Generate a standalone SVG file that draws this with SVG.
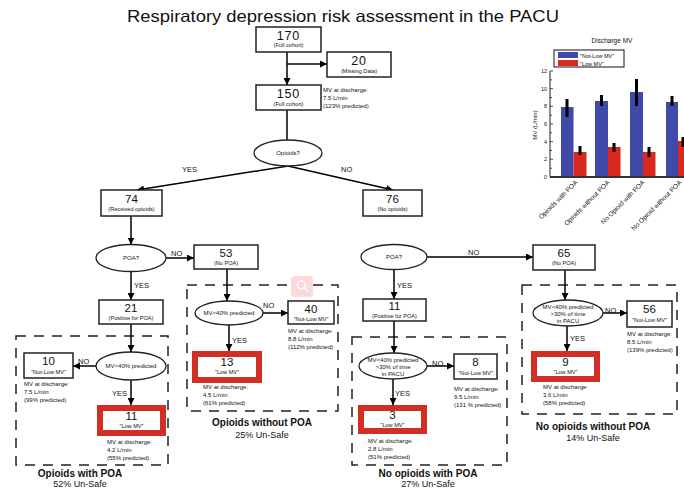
<svg xmlns="http://www.w3.org/2000/svg" width="684" height="490" viewBox="0 0 684 490">
<defs>
<marker id="ah" viewBox="0 0 10 10" refX="10" refY="5" markerWidth="7" markerHeight="7" markerUnits="userSpaceOnUse" orient="auto">
<path d="M0,0 L10,5 L0,10 z" fill="#000"/>
</marker>
<style>
text{font-family:"Liberation Sans",Arial,sans-serif;fill:#111}
.box{fill:#fff;stroke:#222;stroke-width:1.5}
.red{fill:#fff;stroke:#d32e25;stroke-width:6}
.ell{fill:#fff;stroke:#222;stroke-width:1.3}
.dash{fill:none;stroke:#222;stroke-width:1.5;stroke-dasharray:10 8}
.con line{stroke:#000;stroke-width:1.5;marker-end:url(#ah)}
.num{font-size:11.5px;text-anchor:middle}
.big{font-size:12.5px;text-anchor:middle;letter-spacing:0.8px}
.sub{font-size:5.6px;text-anchor:middle}
.in{font-size:6px;text-anchor:middle}
.mv{font-size:6px}
.lab{font-size:7.5px}
.foot{font-size:10px;font-weight:bold;text-anchor:middle}
.pct{font-size:9px;text-anchor:middle}
.ax{font-size:5.5px;text-anchor:end}
.xl{font-size:6.6px;text-anchor:end}
</style>
</defs>
<rect width="684" height="490" fill="#fff"/>
<text x="343" y="22" textLength="432" lengthAdjust="spacingAndGlyphs" style="font-size:16.5px;text-anchor:middle">Respiratory depression risk assessment in the PACU</text>

<!-- dashed groups -->
<g id="grp-opioids-poa"><rect class="dash" x="16" y="336" width="152" height="129"/><text class="foot" x="80" y="477">Opioids with POA</text><text class="pct" x="80" y="487">52% Un-Safe</text></g>
<g id="grp-opioids-nopoa"><rect class="dash" x="187" y="285" width="151" height="126"/><text class="foot" x="262" y="426">Opioids without POA</text><text class="pct" x="262" y="438">25% Un-Safe</text></g>
<g id="grp-noopioids-poa"><rect class="dash" x="352" y="337" width="155" height="128"/><text class="foot" x="428" y="477">No opioids with POA</text><text class="pct" x="428" y="487">27% Un-Safe</text></g>
<g id="grp-noopioids-nopoa"><rect class="dash" x="522" y="285" width="155" height="129"/><text class="foot" x="593" y="430">No opioids without POA</text><text class="pct" x="593" y="441">14% Un-Safe</text></g>

<!-- connectors -->
<g id="connectors" class="con">
<line x1="287" y1="52" x2="287" y2="85"/>
<line x1="287" y1="64" x2="327" y2="64"/>
<line x1="287" y1="110" x2="287" y2="140" style="marker-end:none"/>
<line x1="288" y1="166" x2="137" y2="190"/>
<line x1="288" y1="166" x2="393" y2="190"/>
<line x1="131" y1="216" x2="131" y2="244.5"/>
<line x1="166" y1="258" x2="194" y2="258"/>
<line x1="131" y1="271.5" x2="131" y2="300"/>
<line x1="227" y1="269" x2="227" y2="301"/>
<line x1="263" y1="313" x2="288" y2="313"/>
<line x1="229" y1="325" x2="229" y2="351"/>
<line x1="131" y1="324" x2="131" y2="352"/>
<line x1="96" y1="366" x2="73" y2="366"/>
<line x1="131" y1="380" x2="131" y2="405"/>
<line x1="394" y1="269.5" x2="394" y2="299"/>
<line x1="427" y1="257" x2="533" y2="257"/>
<line x1="394" y1="321" x2="394" y2="353"/>
<line x1="427" y1="366" x2="454" y2="366"/>
<line x1="393" y1="379" x2="393" y2="405"/>
<line x1="565" y1="270" x2="565" y2="300"/>
<line x1="603" y1="313" x2="627" y2="313"/>
<line x1="567" y1="326" x2="567" y2="351"/>
</g>
<g id="edge-labels" class="lab">
<text x="182" y="172">YES</text>
<text x="341" y="172">NO</text>
<text x="171" y="256">NO</text>
<text x="134" y="288">YES</text>
<text x="263" y="308">NO</text>
<text x="232" y="343">YES</text>
<text x="78" y="364">NO</text>
<text x="112" y="396">YES</text>
<text x="468" y="255">NO</text>
<text x="397" y="288">YES</text>
<text x="432" y="366">NO</text>
<text x="395" y="396">YES</text>
<text x="605" y="313">NO</text>
<text x="570" y="341">YES</text>
</g>

<!-- nodes -->
<g id="n170"><rect class="box" x="256" y="27" width="65" height="25"/><text class="big" x="288.5" y="40">170</text><text class="sub" x="288.5" y="47">(Full cohort)</text></g>
<g id="n20"><rect class="box" x="327" y="52" width="64" height="25"/><text class="big" x="359" y="65">20</text><text class="sub" x="359" y="73">(Missing Data)</text></g>
<g id="n150"><rect class="box" x="256" y="85" width="65" height="25"/><text class="big" x="288.5" y="98">150</text><text class="sub" x="288.5" y="105.5">(Full cohort)</text><text class="mv" x="323" y="92">MV at discharge:</text><text class="mv" x="323" y="100">7.5 L/min</text><text class="mv" x="323" y="108">(123% predicted)</text></g>
<g id="opioids-q"><ellipse class="ell" cx="288" cy="153" rx="34" ry="13"/><text class="in" x="288" y="155">Opioids?</text></g>
<g id="n74"><rect class="box" x="101" y="190" width="61" height="26"/><text class="num" x="131.5" y="203">74</text><text class="sub" x="131.5" y="211">(Received opioids)</text></g>
<g id="n76"><rect class="box" x="363" y="190" width="59" height="26"/><text class="num" x="392.5" y="203">76</text><text class="sub" x="392.5" y="211">(No opioids)</text></g>
<g id="poa-q-left"><ellipse class="ell" cx="131" cy="258" rx="35" ry="13.5"/><text class="in" x="131" y="260">POA?</text></g>
<g id="n53"><rect class="box" x="194" y="245" width="64" height="24"/><text class="num" x="226" y="257">53</text><text class="sub" x="226" y="265">(No POA)</text></g>
<g id="n21"><rect class="box" x="99" y="300" width="64" height="24"/><text class="num" x="131" y="312">21</text><text class="sub" x="131" y="320">(Positive for POA)</text></g>
<g id="mv-q-left"><ellipse class="ell" cx="131" cy="366" rx="35" ry="14"/><text class="in" x="131" y="368">MV&lt;40% predicted</text></g>
<g id="n10"><rect class="box" x="24" y="353" width="49" height="25"/><text class="num" x="48.5" y="365">10</text><text class="sub" x="48.5" y="374">"Not-Low MV"</text><text class="mv" x="24" y="386">MV at discharge:</text><text class="mv" x="24" y="394">7.5 L/min</text><text class="mv" x="24" y="402">(99% predicted)</text></g>
<g id="n11a"><rect class="red" x="100" y="408" width="63" height="25"/><text class="num" x="131.5" y="420">11</text><text class="sub" x="131.5" y="428">"Low MV"</text><text class="mv" x="107" y="444">MV at discharge:</text><text class="mv" x="107" y="452">4.2 L/min</text><text class="mv" x="107" y="460">(55% predicted)</text></g>
<g id="mv-q-mid"><ellipse class="ell" cx="229" cy="313" rx="34" ry="12"/><text class="in" x="229" y="315">MV&lt;40% predicted</text></g>
<g id="n40"><rect class="box" x="288" y="301" width="46" height="23"/><text class="num" x="311" y="313">40</text><text class="sub" x="311" y="321">"Not-Low MV"</text><text class="mv" x="288" y="333">MV at discharge:</text><text class="mv" x="288" y="341">8.8 L/min</text><text class="mv" x="288" y="349">(112% predicted)</text></g>
<g id="n13"><rect class="red" x="195" y="354" width="64" height="26"/><text class="num" x="227" y="366">13</text><text class="sub" x="227" y="374">"Low MV"</text><text class="mv" x="203" y="389">MV at discharge:</text><text class="mv" x="203" y="397">4.5 L/min</text><text class="mv" x="203" y="405">(61% predicted)</text></g>
<g id="icon"><rect x="291" y="276" width="22" height="21" rx="4" fill="#fcdada"/><circle cx="301.5" cy="285" r="4" fill="none" stroke="#fff" stroke-width="1.5"/><line x1="304.5" y1="288" x2="307.5" y2="291" stroke="#fff" stroke-width="1.5"/></g>
<g id="poa-q-right"><ellipse class="ell" cx="394" cy="257" rx="33" ry="12.5"/><text class="in" x="394" y="259">POA?</text></g>
<g id="n65"><rect class="box" x="533" y="245" width="62" height="25"/><text class="num" x="564" y="257">65</text><text class="sub" x="564" y="265">(No POA)</text></g>
<g id="n11b"><rect class="box" x="363" y="299" width="63" height="22"/><text class="num" x="394.5" y="310">11</text><text class="sub" x="394.5" y="318">(Positive for POA)</text></g>
<g id="mv-q-right1"><ellipse class="ell" cx="393" cy="366" rx="34" ry="13"/><text class="in" x="393" y="362">MV&lt;40% predicted</text><text class="in" x="393" y="369">&gt;30% of time</text><text class="in" x="393" y="376">in PACU</text></g>
<g id="n8"><rect class="box" x="454" y="354" width="43" height="25"/><text class="num" x="475.5" y="366">8</text><text class="sub" x="475.5" y="375">"Not-Low MV"</text><text class="mv" x="454" y="391">MV at discharge:</text><text class="mv" x="454" y="399">9.5 L/min</text><text class="mv" x="454" y="407">(131 % predicted)</text></g>
<g id="n3"><rect class="red" x="361" y="408" width="63" height="23"/><text class="num" x="392.5" y="419">3</text><text class="sub" x="392.5" y="427">"Low MV"</text><text class="mv" x="368" y="443">MV at discharge:</text><text class="mv" x="368" y="451">2.8 L/min</text><text class="mv" x="368" y="459">(51% predicted)</text></g>
<g id="mv-q-right2"><ellipse class="ell" cx="568" cy="313" rx="35" ry="13"/><text class="in" x="568" y="309">MV&lt;40% predicted</text><text class="in" x="568" y="316">&gt;30% of time</text><text class="in" x="568" y="323">in PACU</text></g>
<g id="n56"><rect class="box" x="627" y="301" width="45" height="26"/><text class="num" x="649.5" y="313">56</text><text class="sub" x="649.5" y="322">"Not-Low MV"</text><text class="mv" x="627" y="336">MV at discharge:</text><text class="mv" x="627" y="344">8.5 L/min</text><text class="mv" x="627" y="352">(139% predicted)</text></g>
<g id="n9"><rect class="red" x="534" y="354" width="63" height="25"/><text class="num" x="565.5" y="366">9</text><text class="sub" x="565.5" y="374">"Low MV"</text><text class="mv" x="543" y="389">MV at discharge:</text><text class="mv" x="543" y="397">3.6 L/min</text><text class="mv" x="543" y="405">(58% predicted)</text></g>

<!-- chart -->
<g id="chart">
<text x="612" y="43" style="font-size:6.5px;text-anchor:middle">Discharge MV</text>
<rect x="554" y="50" width="70" height="17" fill="#fff" stroke="#111" stroke-width="1"/>
<rect x="558" y="52" width="20" height="6" fill="#3f49a7"/>
<rect x="558" y="60" width="20" height="6" fill="#d9281e"/>
<text x="580" y="57.5" style="font-size:5.5px">"Not-Low MV"</text>
<text x="580" y="65.5" style="font-size:5.5px">"Low MV"</text>
<g fill="#3f49a7">
<rect x="561" y="107" width="12.5" height="70"/>
<rect x="595" y="101" width="13" height="76"/>
<rect x="630" y="92" width="13" height="85"/>
<rect x="666" y="102" width="12" height="75"/>
</g>
<g fill="#d9281e">
<rect x="573.5" y="152" width="13" height="25"/>
<rect x="608" y="147" width="12.5" height="30"/>
<rect x="643" y="152" width="12.5" height="25"/>
<rect x="678" y="141" width="8" height="36"/>
</g>
<g stroke="#000" stroke-width="3">
<line x1="567" y1="99" x2="567" y2="117"/>
<line x1="580" y1="146" x2="580" y2="155"/>
<line x1="601.5" y1="95" x2="601.5" y2="106"/>
<line x1="614" y1="143" x2="614" y2="152"/>
<line x1="636.5" y1="79" x2="636.5" y2="106"/>
<line x1="649" y1="147" x2="649" y2="157"/>
<line x1="672" y1="96" x2="672" y2="106"/>
<line x1="683" y1="137" x2="683" y2="147"/>
</g>
<g stroke="#222" stroke-width="0.8">
<line x1="550" y1="71" x2="553" y2="71"/><line x1="550" y1="88.7" x2="553" y2="88.7"/><line x1="550" y1="106.3" x2="553" y2="106.3"/><line x1="550" y1="124" x2="553" y2="124"/><line x1="550" y1="141.7" x2="553" y2="141.7"/><line x1="550" y1="159.3" x2="553" y2="159.3"/>
<line x1="550" y1="79.8" x2="552" y2="79.8"/><line x1="550" y1="97.5" x2="552" y2="97.5"/><line x1="550" y1="115.2" x2="552" y2="115.2"/><line x1="550" y1="132.8" x2="552" y2="132.8"/><line x1="550" y1="150.5" x2="552" y2="150.5"/><line x1="550" y1="168.2" x2="552" y2="168.2"/>
</g>
<line x1="550" y1="71" x2="550" y2="177" stroke="#222" stroke-width="1"/>
<line x1="550" y1="177" x2="684" y2="177" stroke="#333" stroke-width="1.8"/>
<g class="ax">
<text x="547" y="73">12</text><text x="547" y="90.5">10</text><text x="547" y="108">8</text><text x="547" y="126">6</text><text x="547" y="143.5">4</text><text x="547" y="161">2</text><text x="547" y="179">0</text>
</g>
<text transform="translate(537,125) rotate(-90)" style="font-size:6px;text-anchor:middle">MV (L/min)</text>
<text class="xl" transform="translate(578,183) rotate(-45)">Opioids with POA</text>
<text class="xl" transform="translate(610,183) rotate(-45)">Opioids without POA</text>
<text class="xl" transform="translate(645,183) rotate(-45)">No Opioid with POA</text>
<text class="xl" transform="translate(682,183) rotate(-45)">No Opioid without POA</text>
</g>
</svg>
